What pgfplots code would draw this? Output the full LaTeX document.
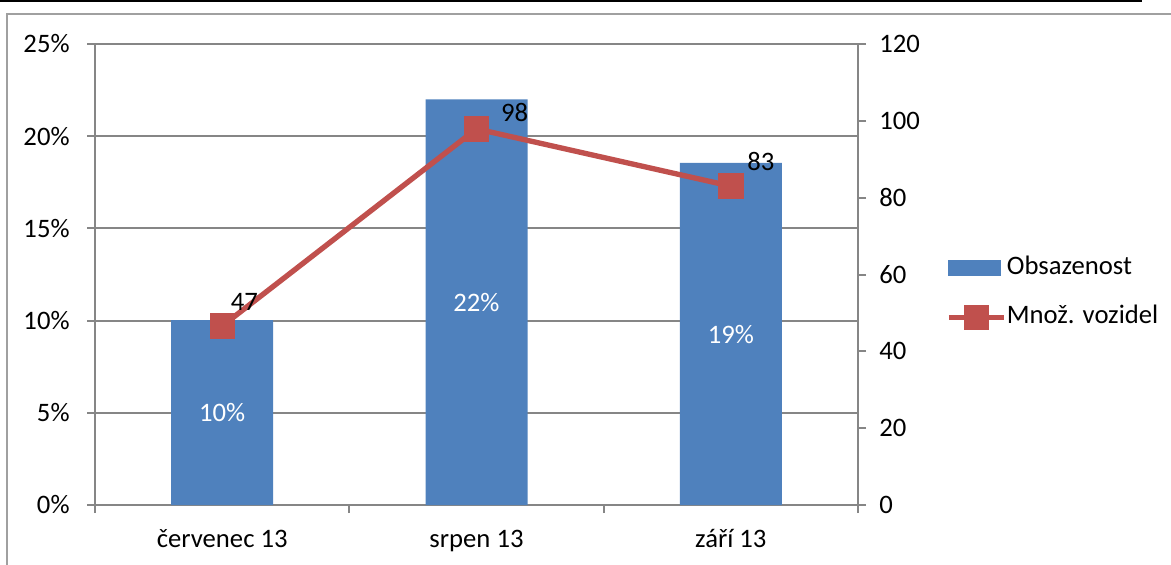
\documentclass[border=0pt]{standalone}
\usepackage{fontspec}
\setmainfont{Carlito}
\usepackage{pgfplots}
\pgfplotsset{compat=1.18}
\definecolor{barblue}{HTML}{4F81BD}
\definecolor{linered}{HTML}{C0504D}
\definecolor{axgray}{HTML}{868686}
\definecolor{framegray}{HTML}{A0A0A0}
\begin{document}
\begin{tikzpicture}
\path[use as bounding box] (0pt,0pt) rectangle (439.125pt,-211.875pt);
\draw[black, line width=0.75pt] (0pt,-0.4pt) -- (428.25pt,-0.4pt);
\draw[framegray, line width=0.75pt] (2.8pt,-211.875pt) -- (2.8pt,-5.25pt) -- (439.125pt,-5.25pt);
\begin{axis}[
  at={(35.625pt,-189.375pt)}, anchor=south west,
  scale only axis, width=286.125pt, height=172.875pt,
  xmin=-0.5, xmax=2.5, ymin=0, ymax=25,
  axis y line*=left, axis x line*=bottom,
  axis line style={axgray, line width=0.75pt},
  ytick={0,5,...,25},
  yticklabel={\pgfmathprintnumber{\tick}\%},
  ymajorgrids, grid style={axgray, line width=0.75pt},
  xtick={0,1,2},
  xticklabels={červenec 13, srpen 13, září 13},
  minor xtick={-0.5,0.5,1.5,2.5},
  major x tick style={draw=none},
  tick align=outside, major tick length=3pt, minor tick length=3pt,
  tick style={axgray, line width=0.75pt},
  /pgf/number format/assume math mode=true,
  ticklabel style={text=black},
  yticklabel style={xshift=-3pt},
  xticklabel style={text height=7.5pt, text depth=2pt, yshift=-2pt},
]
\addplot[ybar, bar width=38.25pt, fill=barblue, draw=none] coordinates {(0,10.03) (1,22.0) (2,18.55)};
\addplot[draw=none, nodes near coords, point meta=explicit symbolic,
  every node near coord/.append style={anchor=center, text=white}]
  coordinates {(0,5.0) [10\%] (1,11.0) [22\%] (2,9.27) [19\%]};
\end{axis}
\begin{axis}[
  at={(35.625pt,-189.375pt)}, anchor=south west,
  scale only axis, width=286.125pt, height=172.875pt,
  xmin=-0.5, xmax=2.5, ymin=0, ymax=120,
  axis x line=none, axis y line*=right,
  axis line style={axgray, line width=0.75pt},
  ytick={0,20,...,120},
  tick align=outside, major tick length=3pt,
  tick style={axgray, line width=0.75pt},
  /pgf/number format/assume math mode=true,
  ticklabel style={text=black},
  yticklabel style={xshift=1.5pt},
  legend style={draw=none, fill=none, at={(1.1155,0.4604)}, anchor=west,
    inner sep=0pt, outer sep=0pt, row sep=9.4pt, column sep=0.2pt,
    nodes={inner sep=0pt, text height=7pt, text depth=2pt}},
  legend cell align=left,
]
\addlegendimage{legend image code/.code={\fill[barblue] (0pt,-2.8pt) rectangle (19.5pt,2.8pt);}}
\addlegendentry{Obsazenost}
\addplot[linered, line width=2pt, mark=square*, mark size=3.75pt,
  mark options={fill=linered, draw=none},
  legend image code/.code={\draw[linered, line width=2pt] (0pt,0pt) -- (20.6pt,0pt);
    \fill[linered] (6.55pt,-3.75pt) rectangle (14.05pt,3.75pt);}]
  coordinates {(0,46.6) (1,97.9) (2,83.0)};
\addlegendentry{Množ. vozidel}
\addplot[draw=none, forget plot, nodes near coords, point meta=explicit symbolic,
  every node near coord/.append style={anchor=center, text=black}]
  coordinates {(0.087,52.8) [47] (1.150,102.3) [98] (2.118,89.5) [83]};
\end{axis}
\end{tikzpicture}
\end{document}
